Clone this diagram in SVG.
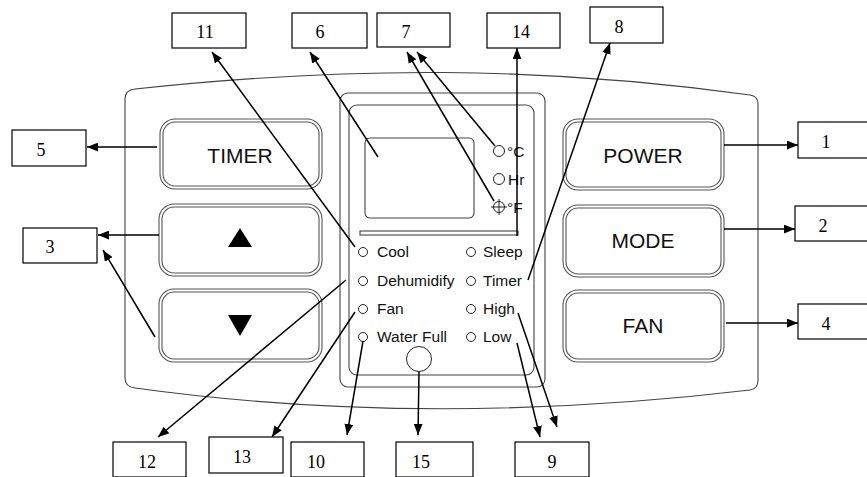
<svg xmlns="http://www.w3.org/2000/svg" width="867" height="477" viewBox="0 0 867 477">
<defs>
<style>
.panel{fill:none;stroke:#444;stroke-width:1.1}
.btn{fill:none;stroke:#555;stroke-width:1.1}
.lbl{fill:#fff;stroke:#000;stroke-width:1.2}
.num{font-family:"Liberation Serif","Times New Roman",serif;font-size:18px;fill:#000;text-anchor:middle}
.bt{font-family:"Liberation Sans",Arial,sans-serif;font-size:21px;fill:#111;text-anchor:middle}
.ind{font-family:"Liberation Sans",Arial,sans-serif;font-size:15.5px;fill:#111}
.led{fill:#fff;stroke:#222;stroke-width:1}
.con{fill:none;stroke:#000;stroke-width:1.5;marker-end:url(#ah)}
</style>
<marker id="ah" viewBox="0 0 10 8" refX="10" refY="4" markerWidth="11" markerHeight="9" markerUnits="userSpaceOnUse" orient="auto">
<path d="M0,0 L10,4 L0,8 z" fill="#000"/>
</marker>
</defs>

<g id="panel">
<path class="panel" d="M125,99 Q125,90 135,89 C350,66 540,66 750,95 Q758,96 758,104 L758,380 Q758,389 750,390 C540,415 330,415 135,388 Q125,387 125,378 Z"/>
</g>

<g id="display">
<rect class="panel" x="340" y="93" width="205" height="294" rx="8"/>
<rect class="panel" x="349" y="105" width="185" height="270" rx="8"/>
<rect class="panel" x="365" y="138" width="109" height="80" rx="5"/>
<rect class="panel" x="360" y="231" width="158" height="4"/>
<circle class="led" cx="419" cy="359" r="12.5"/>
</g>

<g id="ind-c"><circle class="led" cx="499" cy="151" r="5.5"/><text class="ind" x="507" y="157" font-size="16">°C</text></g>
<g id="ind-hr"><circle class="led" cx="499" cy="179" r="5.5"/><text class="ind" x="508" y="185" font-size="16">Hr</text></g>
<g id="ind-f"><circle class="led" cx="499" cy="207" r="5.5"/><path d="M499,199 V215 M491,207 H507" stroke="#222" stroke-width="1"/><text class="ind" x="507" y="213" font-size="16">°F</text></g>

<g id="ind-cool"><circle class="led" cx="363" cy="252" r="4.5"/><text class="ind" x="377" y="257">Cool</text></g>
<g id="ind-dehum"><circle class="led" cx="363" cy="281" r="4.5"/><text class="ind" x="377" y="286">Dehumidify</text></g>
<g id="ind-fan"><circle class="led" cx="363" cy="309" r="4.5"/><text class="ind" x="377" y="314">Fan</text></g>
<g id="ind-water"><circle class="led" cx="363" cy="337" r="4.5"/><text class="ind" x="377" y="342">Water Full</text></g>
<g id="ind-sleep"><circle class="led" cx="471" cy="252" r="4.5"/><text class="ind" x="483" y="257">Sleep</text></g>
<g id="ind-timer"><circle class="led" cx="471" cy="281" r="4.5"/><text class="ind" x="483" y="286">Timer</text></g>
<g id="ind-high"><circle class="led" cx="471" cy="309" r="4.5"/><text class="ind" x="483" y="314">High</text></g>
<g id="ind-low"><circle class="led" cx="471" cy="337" r="4.5"/><text class="ind" x="483" y="342">Low</text></g>

<g id="btn-timer"><rect class="btn" x="160" y="119" width="162" height="70" rx="15"/><rect class="btn" x="163" y="122" width="156" height="64" rx="12"/><text class="bt" x="240" y="163">TIMER</text></g>
<g id="btn-up"><rect class="btn" x="159" y="204" width="163" height="72" rx="15"/><rect class="btn" x="162" y="207" width="157" height="66" rx="12"/><path d="M240,228 L252,247 L228,247 Z" fill="#000"/></g>
<g id="btn-down"><rect class="btn" x="159" y="289" width="163" height="73" rx="15"/><rect class="btn" x="162" y="292" width="157" height="67" rx="12"/><path d="M228,315 L252,315 L240,336 Z" fill="#000"/></g>
<g id="btn-power"><rect class="btn" x="563" y="119" width="161" height="71" rx="15"/><rect class="btn" x="566" y="122" width="155" height="65" rx="12"/><text class="bt" x="643" y="163">POWER</text></g>
<g id="btn-mode"><rect class="btn" x="563" y="205" width="161" height="72" rx="15"/><rect class="btn" x="566" y="208" width="155" height="66" rx="12"/><text class="bt" x="643" y="248">MODE</text></g>
<g id="btn-fan"><rect class="btn" x="563" y="290" width="161" height="72" rx="15"/><rect class="btn" x="566" y="293" width="155" height="66" rx="12"/><text class="bt" x="643" y="333">FAN</text></g>

<g id="connectors">
<line class="con" x1="157" y1="147" x2="87" y2="147"/>
<line class="con" x1="159" y1="235" x2="98" y2="235"/>
<line class="con" x1="155" y1="337" x2="103" y2="250"/>
<line class="con" x1="724" y1="145" x2="798" y2="145"/>
<line class="con" x1="724" y1="229" x2="795" y2="229"/>
<line class="con" x1="726" y1="323" x2="798" y2="323"/>
<line class="con" x1="355" y1="247" x2="212" y2="52"/>
<line class="con" x1="378" y1="157" x2="310" y2="52"/>
<line class="con" x1="495" y1="146" x2="417" y2="52"/>
<line class="con" x1="494" y1="201" x2="407" y2="52"/>
<line class="con" x1="517" y1="236" x2="517" y2="48"/>
<line class="con" x1="528" y1="280" x2="610" y2="43"/>
<line class="con" x1="346" y1="280" x2="158" y2="437"/>
<line class="con" x1="355" y1="312" x2="272" y2="437"/>
<line class="con" x1="363" y1="341" x2="347" y2="435"/>
<line class="con" x1="419" y1="372" x2="418" y2="435"/>
<line class="con" x1="517" y1="343" x2="540" y2="437"/>
<line class="con" x1="518" y1="313" x2="557" y2="427"/>
</g>

<g id="lbl-11"><rect class="lbl" x="172" y="13" width="74" height="35"/><text class="num" x="205" y="38">11</text></g>
<g id="lbl-6"><rect class="lbl" x="292" y="13" width="75" height="35"/><text class="num" x="320" y="38">6</text></g>
<g id="lbl-7"><rect class="lbl" x="377" y="13" width="73" height="34"/><text class="num" x="406" y="38">7</text></g>
<g id="lbl-14"><rect class="lbl" x="487" y="13" width="73" height="35"/><text class="num" x="521" y="38">14</text></g>
<g id="lbl-8"><rect class="lbl" x="590" y="7" width="73" height="36"/><text class="num" x="619" y="33">8</text></g>
<g id="lbl-5"><rect class="lbl" x="12" y="130" width="74" height="36"/><text class="num" x="41" y="156">5</text></g>
<g id="lbl-3"><rect class="lbl" x="23" y="228" width="74" height="35"/><text class="num" x="50" y="253">3</text></g>
<g id="lbl-1"><rect class="lbl" x="798" y="122" width="70" height="36"/><text class="num" x="826" y="148">1</text></g>
<g id="lbl-2"><rect class="lbl" x="795" y="206" width="73" height="35"/><text class="num" x="823" y="232">2</text></g>
<g id="lbl-4"><rect class="lbl" x="798" y="304" width="70" height="35"/><text class="num" x="826" y="330">4</text></g>
<g id="lbl-12"><rect class="lbl" x="113" y="442" width="73" height="35"/><text class="num" x="147" y="468">12</text></g>
<g id="lbl-13"><rect class="lbl" x="209" y="437" width="74" height="36"/><text class="num" x="242" y="463">13</text></g>
<g id="lbl-10"><rect class="lbl" x="291" y="442" width="73" height="35"/><text class="num" x="316" y="468">10</text></g>
<g id="lbl-15"><rect class="lbl" x="396" y="442" width="77" height="35"/><text class="num" x="421" y="468">15</text></g>
<g id="lbl-9"><rect class="lbl" x="515" y="442" width="74" height="35"/><text class="num" x="552" y="468">9</text></g>
</svg>
